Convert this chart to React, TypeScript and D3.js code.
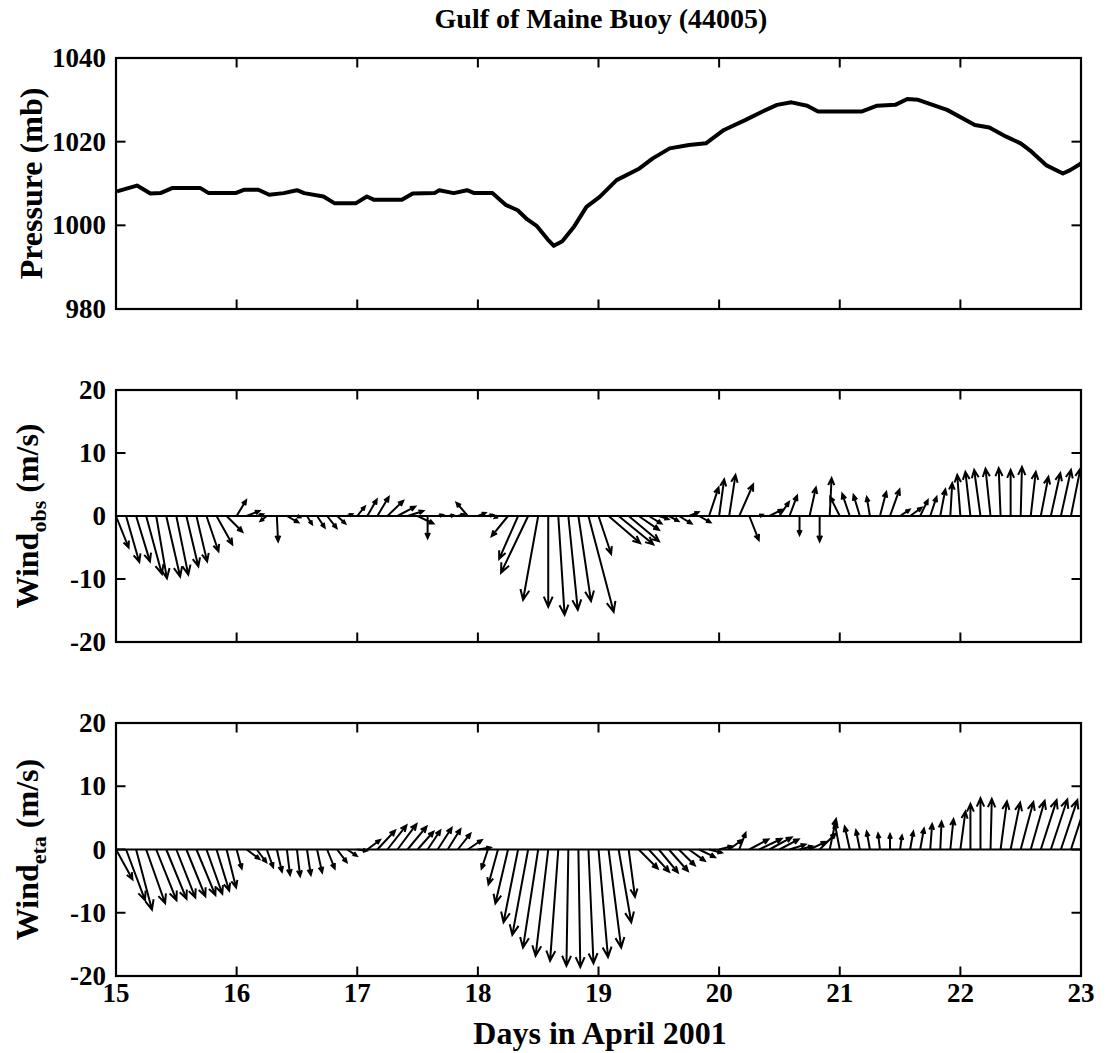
import React from 'react';
import * as d3 from 'd3';

// ---------------- data ----------------
const dayTicks = [15, 16, 17, 18, 19, 20, 21, 22, 23];
const pressureTicks = [980, 1000, 1020, 1040];
const windTicks = [-20, -10, 0, 10, 20];

const pressureDays = [
  15.008, 15.174, 15.285, 15.368, 15.465, 15.70, 15.769, 15.99, 16.06, 16.18, 16.27, 16.39, 16.50, 16.56,
  16.72, 16.81, 16.99, 17.08, 17.14, 17.37, 17.46, 17.64, 17.68, 17.80, 17.91, 17.97, 18.12, 18.23, 18.33,
  18.41, 18.49, 18.58, 18.63, 18.70, 18.80, 18.90, 19.01, 19.15, 19.34, 19.45, 19.59, 19.75, 19.89, 20.04,
  20.22, 20.36, 20.48, 20.60, 20.73, 20.82, 21.18, 21.31, 21.46, 21.56, 21.65, 21.89, 22.12, 22.24, 22.38,
  22.50, 22.59, 22.71, 22.85, 22.91, 22.99, 23.0,
];
const pressureMb = [
  1008.1, 1009.5, 1007.6, 1007.7, 1008.9, 1008.9, 1007.7, 1007.7, 1008.5, 1008.5, 1007.3, 1007.7, 1008.4, 1007.7,
  1006.9, 1005.3, 1005.3, 1006.9, 1006.1, 1006.1, 1007.6, 1007.7, 1008.4, 1007.7, 1008.4, 1007.7, 1007.7, 1004.9, 1003.6,
  1001.4, 999.8, 996.6, 995.1, 996.2, 999.8, 1004.4, 1006.8, 1010.8, 1013.6, 1016.0, 1018.4, 1019.2, 1019.6, 1022.8,
  1025.2, 1027.2, 1028.8, 1029.4, 1028.6, 1027.2, 1027.2, 1028.6, 1028.8, 1030.2, 1030.0, 1027.6, 1024.0, 1023.4, 1021.2,
  1019.6, 1017.6, 1014.4, 1012.4, 1013.2, 1014.6, 1014.8,
];

// hours since 15 April 00:00 (2-hourly samples)
const windHours = [
  0, 2, 4, 6, 8, 10, 12, 14, 16, 18, 20, 22, 24, 26, 28, 30, 32, 34, 36, 38, 40, 42, 44, 46,
  48, 50, 52, 54, 56, 58, 60, 62, 64, 66, 68, 70, 72, 74, 76, 78, 80, 82, 84, 86, 88, 90, 92, 94,
  96, 98, 100, 102, 104, 106, 108, 110, 112, 114, 116, 118, 120, 122, 124, 126, 128, 130, 132, 134, 136, 138, 140, 142,
  144, 146, 148, 150, 152, 154, 156, 158, 160, 162, 164, 166, 168, 170, 172, 174, 176, 178, 180, 182, 184, 186, 188, 190, 192,
];

const obsU = [
  2.0, 2.1, 2.2, 2.5, 1.7, 2.2, 1.9, 1.9, 1.7, 1.9, 2.5, 2.5,
  1.5, 2.0, 1.0, -1.0, 0.2, 1.8, 0.5, 0.8, 1.2, 1.5, 1.3, 0.8,
  1.2, 1.5, 1.8, 2.5, 2.8, 2.5, 2.5, 0.0, 0.8, 1.0, 1.0, -1.8,
  1.2, 0.8, -0.5, -2.6, -3.0, -4.3, -2.4, 0.0, 1.0, 1.5, 2.0, 4.0,
  2.0, 5.0, 5.5, 4.8, 3.2, 2.0, 1.5, 1.5, 2.0, 1.5, 1.8, 1.5,
  0.8, 1.0, 2.2, 1.5, 0.5, 2.0, 1.5, 1.2, 0.0, 1.0, 0.0, 0.3,
  -1.5, -1.2, -1.0, -0.5, 1.0, 1.5, 1.5, 1.8, 1.2, 1.0, 0.8, 0.3,
  -0.5, -0.8, -1.0, -0.8, -0.3, 0.0, 0.2, 0.8, 1.2, 1.5, 1.6, 1.5, 0.8,
];
const obsV = [
  -5.0, -7.3, -7.2, -9.2, -9.9, -9.6, -9.3, -8.0, -7.2, -5.6, -4.5, -2.5,
  2.5, 0.8, 0.3, -0.8, -4.0, -1.0, -0.2, -1.3, -1.8, -1.9, -1.2, 0.3,
  1.5, 2.6, 3.0, 2.4, 1.5, 0.8, -1.2, -3.5, 0.2, 0.1, 0.3, 2.1,
  0.5, 0.2, -0.3, -3.2, -6.8, -9.0, -13.3, -14.4, -15.7, -14.9, -13.5, -15.2,
  -6.0, -4.3, -4.5, -4.0, -2.2, -1.2, -0.5, -0.8, -1.2, 0.6, -1.0, 4.5,
  5.8, 6.5, 5.0, -3.8, 0.2, 1.0, 2.2, 3.2, -3.0, 4.5, -4.0, 6.0,
  3.0, 3.5, 3.3, 3.0, 3.8, 4.2, 1.0, 1.3, 2.5, 3.0, 4.2, 5.2,
  6.5, 7.0, 7.3, 7.5, 7.6, 7.3, 7.8, 7.0, 6.2, 6.8, 7.3, 7.5, 6.8,
];

const etaU = [
  2.6, 3.0, 2.5, 3.0, 3.2, 3.2, 3.0, 3.0, 3.0, 2.5, 2.0, 1.5,
  0.8, 2.0, 1.5, 1.0, 0.8, 0.5, 0.5, 0.6, 0.8, 1.2, 1.5, 1.5,
  1.5, 2.0, 2.8, 3.0, 3.0, 3.0, 2.5, 2.0, 2.2, 2.0, 2.0, 2.2,
  2.0, -1.0, -1.5, -2.0, -2.3, -2.5, -2.4, -2.0, -1.3, -0.3, 0.3, 0.8,
  1.5, 2.0, 2.0, 1.0, 3.0, 3.2, 3.0, 3.0, 2.5, 2.5, 2.5, 2.0,
  2.0, 2.0, 1.0, 3.0, 3.5, 3.5, 3.0, 2.5, 2.0, 2.5, 2.5, 1.0,
  -0.8, -0.8, -0.6, -0.5, -0.3, 0.0, 0.3, 0.5, 0.6, 0.3, 0.2, 0.5,
  0.8, 0.0, 0.0, 0.2, 1.0, 1.5, 2.0, 2.2, 2.5, 2.6, 2.6, 2.5, 2.2,
];
const etaV = [
  -4.7, -8.0, -9.5, -8.5, -8.0, -7.8, -7.6, -7.4, -7.2, -7.0, -6.5, -6.0,
  -3.0, -1.5, -2.0, -2.8, -3.5, -4.0, -4.2, -4.0, -3.6, -3.0, -2.0, -1.0,
  -0.2, 1.5, 3.0, 3.8, 4.0, 3.6, 2.8, 3.0, 3.4, 3.2, 2.5, 1.5,
  0.3, -3.0, -5.5, -8.5, -11.5, -13.5, -15.5, -16.8, -17.6, -18.4, -18.6, -18.0,
  -17.0, -15.5, -11.5, -7.5, -3.0, -3.5, -3.6, -3.4, -2.5, -1.8, -1.2, -0.5,
  0.5, 1.5, 2.6, 1.6, 1.7, 1.9, 1.6, 0.8, 0.5, 1.2, 2.5, 4.8,
  4.2, 3.6, 3.0, 2.8, 2.5, 2.4, 2.2, 2.8, 3.3, 4.0, 4.4, 4.8,
  6.0, 7.2, 8.1, 8.0, 7.6, 7.4, 7.5, 7.7, 7.8, 7.9, 7.8, 7.7, 7.5,
];

// ---------------- layout ----------------
const W = 1110;
const H = 1053;
const LEFT = 116;
const RIGHT = 1081;
const TICK = 9.5;
const FONT = "'Liberation Serif', 'Times New Roman', Times, serif";

const x = d3.scaleLinear().domain([15, 23]).range([LEFT, RIGHT]);

type Panel = { top: number; bottom: number; domain: [number, number]; ticks: number[] };
const pPanel: Panel = { top: 58, bottom: 309, domain: [980, 1040], ticks: pressureTicks };
const oPanel: Panel = { top: 390, bottom: 642, domain: [-20, 20], ticks: windTicks };
const ePanel: Panel = { top: 723, bottom: 976, domain: [-20, 20], ticks: windTicks };

const yScale = (p: Panel) => d3.scaleLinear().domain(p.domain).range([p.bottom, p.top]);

function Frame({ p }: { p: Panel }) {
  const y = yScale(p);
  return (
    <g>
      {dayTicks.map((d) => (
        <g key={'x' + d}>
          <line x1={x(d)} x2={x(d)} y1={p.top} y2={p.top + TICK} stroke="#000" strokeWidth={2} />
          <line x1={x(d)} x2={x(d)} y1={p.bottom} y2={p.bottom - TICK} stroke="#000" strokeWidth={2} />
        </g>
      ))}
      {p.ticks.map((t) => (
        <g key={'y' + t}>
          <line x1={LEFT} x2={LEFT + TICK} y1={y(t)} y2={y(t)} stroke="#000" strokeWidth={2} />
          <line x1={RIGHT} x2={RIGHT - TICK} y1={y(t)} y2={y(t)} stroke="#000" strokeWidth={2} />
          <text x={106} y={y(t) + 9} textAnchor="end" fontSize={27} fontWeight="bold" fontFamily={FONT}>
            {String(t)}
          </text>
        </g>
      ))}
      <rect x={LEFT} y={p.top} width={RIGHT - LEFT} height={p.bottom - p.top} fill="none" stroke="#000" strokeWidth={2.2} />
    </g>
  );
}

function Sticks({ p, u, v, id }: { p: Panel; u: number[]; v: number[]; id: string }) {
  const y = yScale(p);
  const k = (y(0) - y(10)) / 10; // px per m/s
  const paths = windHours.map((h, i) => {
    const x0 = x(15 + h / 24);
    const y0 = y(0);
    const x1 = x0 + u[i] * k;
    const y1 = y(v[i]);
    const dx = x1 - x0;
    const dy = y1 - y0;
    const len = Math.hypot(dx, dy);
    if (len < 0.5) return '';
    const hl = Math.min(11, 3 + 0.12 * len);
    const ang = Math.atan2(dy, dx);
    const a = (24 * Math.PI) / 180;
    const hx1 = x1 - hl * Math.cos(ang - a);
    const hy1 = y1 - hl * Math.sin(ang - a);
    const hx2 = x1 - hl * Math.cos(ang + a);
    const hy2 = y1 - hl * Math.sin(ang + a);
    return `M${x0},${y0}L${x1},${y1}M${hx1},${hy1}L${x1},${y1}L${hx2},${hy2}`;
  });
  return (
    <g clipPath={`url(#${id})`}>
      <defs>
        <clipPath id={id}>
          <rect x={LEFT} y={p.top} width={RIGHT - LEFT} height={p.bottom - p.top} />
        </clipPath>
      </defs>
      <line x1={LEFT} x2={RIGHT} y1={y(0)} y2={y(0)} stroke="#000" strokeWidth={2.2} />
      {paths.map((d, i) => (
        <path key={i} d={d} fill="none" stroke="#000" strokeWidth={2} strokeLinejoin="miter" />
      ))}
    </g>
  );
}

export default function App() {
  const yp = yScale(pPanel);
  const line = d3
    .line<number>()
    .x((_, i) => x(pressureDays[i]))
    .y((d) => yp(d));
  const pPath = line(pressureMb) || '';

  return (
    <svg
      width={W}
      height={H}
      viewBox={`0 0 ${W} ${H}`}
      style={{ position: 'absolute', left: 0, top: 0, background: '#fff' }}
    >
      <rect x={0} y={0} width={W} height={H} fill="#fff" />
      <text x={601} y={28} textAnchor="middle" fontSize={28} fontWeight="bold" fontFamily={FONT}>
        Gulf of Maine Buoy (44005)
      </text>

      {/* Pressure panel */}
      <path d={pPath} fill="none" stroke="#000" strokeWidth={4} strokeLinejoin="round" />
      <Frame p={pPanel} />
      <text
        transform={`translate(42,${(pPanel.top + pPanel.bottom) / 2}) rotate(-90)`}
        textAnchor="middle"
        fontSize={32}
        fontWeight="bold"
        fontFamily={FONT}
      >
        Pressure (mb)
      </text>

      {/* Observed wind */}
      <Sticks p={oPanel} u={obsU} v={obsV} id="clipObs" />
      <Frame p={oPanel} />
      <text
        transform={`translate(38,${(oPanel.top + oPanel.bottom) / 2}) rotate(-90)`}
        textAnchor="middle"
        fontSize={32}
        fontWeight="bold"
        fontFamily={FONT}
      >
        Wind
        <tspan fontSize={22} dy={8}>obs</tspan>
        <tspan dy={-8}> (m/s)</tspan>
      </text>

      {/* Eta wind */}
      <Sticks p={ePanel} u={etaU} v={etaV} id="clipEta" />
      <Frame p={ePanel} />
      <text
        transform={`translate(38,${(ePanel.top + ePanel.bottom) / 2}) rotate(-90)`}
        textAnchor="middle"
        fontSize={32}
        fontWeight="bold"
        fontFamily={FONT}
      >
        Wind
        <tspan fontSize={22} dy={8}>eta</tspan>
        <tspan dy={-8}> (m/s)</tspan>
      </text>

      {/* x tick labels */}
      {dayTicks.map((d) => (
        <text key={d} x={x(d)} y={1002} textAnchor="middle" fontSize={27} fontWeight="bold" fontFamily={FONT}>
          {String(d)}
        </text>
      ))}
      <text x={600} y={1044} textAnchor="middle" fontSize={32} fontWeight="bold" fontFamily={FONT}>
        Days in April 2001
      </text>
    </svg>
  );
}
